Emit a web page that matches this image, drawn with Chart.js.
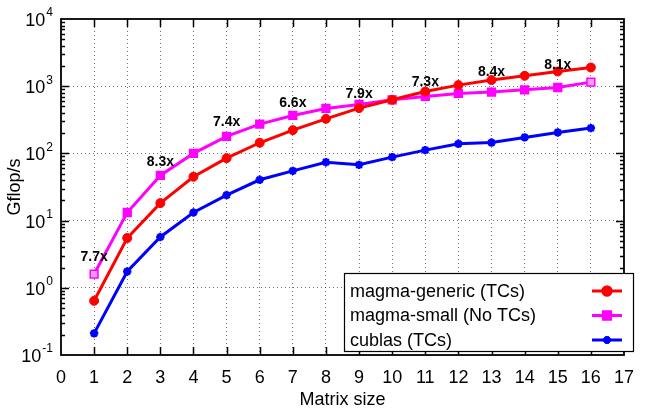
<!DOCTYPE html>
<html>
<head>
<meta charset="utf-8">
<script src="https://cdn.jsdelivr.net/npm/chart.js@4.4.1/dist/chart.umd.min.js"></script>
<style>
  html, body { margin: 0; padding: 0; background: #fff; }
  #wrap { width: 646px; height: 412px; }
</style>
</head>
<body>
<div id="wrap"><canvas id="chart" width="646" height="412"></canvas></div>
<script>
// matrix sizes on the x axis
const aMatrixSize = [1, 2, 3, 4, 5, 6, 7, 8, 9, 10, 11, 12, 13, 14, 15, 16];

// Gflop/s per series
const aMagmaGeneric = [0.64, 5.5, 18.2, 45, 85, 144, 222, 327, 472, 628, 833, 1038, 1233, 1428, 1656, 1897];
const aMagmaSmall = [1.6, 13.2, 47, 100, 179, 273, 367, 466, 534, 628, 703, 780, 817, 884, 956, 1150];
const aCublas = [0.21, 1.75, 5.7, 13.2, 24, 40.5, 55, 74, 67.6, 88, 112, 139, 145, 173, 205, 238];

// speedup labels (x position, text, y value where the label sits)
const aSpeedupX = [1, 3, 5, 7, 9, 11, 13, 15];
const aSpeedupLabel = ["7.7x", "8.3x", "7.4x", "6.6x", "7.9x", "7.3x", "8.4x", "8.1x"];
const aSpeedupY = [2.9, 75, 296, 566, 771, 1162, 1637, 2081];

// y axis decades (exponents of 10)
const aYExp = [-1, 0, 1, 2, 3, 4];

const FONT = "'Liberation Sans', Arial, Helvetica, sans-serif";

function toPoints(aY) {
    return aMatrixSize.map(function (x, i) { return { x: x, y: aY[i] }; });
}

function isDecade(v) {
    const e = Math.log10(v);
    return Math.abs(e - Math.round(e)) < 1e-9;
}

// frame, inward ticks, y labels with superscripts, speedup labels and legend
const gnuplotLook = {
    id: "gnuplotLook",
    afterDraw: function (chart) {
        const ctx = chart.ctx;
        const a = chart.chartArea;
        const xs = chart.scales.x;
        const ys = chart.scales.y;

        ctx.save();
        ctx.strokeStyle = "#000";
        ctx.lineWidth = 1.5;

        // inward x ticks (bottom and top)
        ctx.beginPath();
        for (let v = 1; v < 17; v++) {
            const px = Math.round(xs.getPixelForValue(v)) + 0.5;
            ctx.moveTo(px, a.bottom); ctx.lineTo(px, a.bottom - 8);
            ctx.moveTo(px, a.top); ctx.lineTo(px, a.top + 8);
        }
        // inward y ticks, major and minor (left and right)
        ys.ticks.forEach(function (t) {
            if (t.value <= 0.1 || t.value >= 10000) return;
            const py = Math.round(ys.getPixelForValue(t.value)) + 0.5;
            const len = isDecade(t.value) ? 8 : 4;
            ctx.moveTo(a.left, py); ctx.lineTo(a.left + len, py);
            ctx.moveTo(a.right, py); ctx.lineTo(a.right - len, py);
        });
        ctx.stroke();

        // frame
        ctx.lineWidth = 1.8;
        ctx.strokeRect(a.left, a.top, a.right - a.left, a.bottom - a.top);

        // y labels 10^n
        ctx.fillStyle = "#000";
        aYExp.forEach(function (e) {
            const py = ys.getPixelForValue(Math.pow(10, e));
            const sExp = String(e);
            ctx.font = "12px " + FONT;
            const wExp = ctx.measureText(sExp).width;
            ctx.font = "18px " + FONT;
            const wBase = ctx.measureText("10").width;
            const xRight = 53;
            ctx.textBaseline = "middle";
            ctx.textAlign = "left";
            ctx.fillText("10", xRight - wExp - wBase - 1, py + 2);
            ctx.font = "12px " + FONT;
            ctx.fillText(sExp, xRight - wExp, py - 6);
        });

        // speedup labels
        ctx.font = "bold 14px " + FONT;
        ctx.textAlign = "center";
        ctx.textBaseline = "middle";
        aSpeedupX.forEach(function (x, i) {
            ctx.fillText(aSpeedupLabel[i], xs.getPixelForValue(x), ys.getPixelForValue(aSpeedupY[i]));
        });

        // legend box
        const lx = 344, ly = 273, lw = 289, lh = 78;
        ctx.fillStyle = "#fff";
        ctx.fillRect(lx, ly, lw, lh);
        ctx.lineWidth = 1.2;
        ctx.strokeRect(lx + 0.5, ly + 0.5, lw, lh);
        ctx.font = "18px " + FONT;
        ctx.textAlign = "left";
        chart.data.datasets.forEach(function (ds, i) {
            const cy = 291 + i * 24.5;
            ctx.fillStyle = "#000";
            ctx.fillText(ds.label, 350, cy + 1);
            ctx.strokeStyle = ds.borderColor;
            ctx.lineWidth = 3;
            ctx.beginPath();
            ctx.moveTo(592, cy); ctx.lineTo(622, cy);
            ctx.stroke();
            Chart.helpers.drawPoint(ctx, {
                pointStyle: ds.pointStyle,
                radius: ds.pointRadius - 0.5,
                borderWidth: ds.pointBorderWidth || 1,
                rotation: 0
            }, 607, cy);
            ctx.fillStyle = ds.borderColor;
            ctx.fill();
            ctx.stroke();
        });
        ctx.restore();
    }
};

const oChart = new Chart(document.getElementById("chart").getContext("2d"), {
    type: "line",
    plugins: [gnuplotLook],
    data: {
        datasets: [
            {
                label: "magma-generic (TCs)",
                data: toPoints(aMagmaGeneric),
                borderColor: "#ff0000",
                backgroundColor: "#ff0000",
                pointBackgroundColor: "#ff0000",
                borderWidth: 3,
                pointStyle: "circle",
                pointRadius: 4.5,
                pointBorderWidth: 1,
                tension: 0
            },
            {
                label: "magma-small (No TCs)",
                data: toPoints(aMagmaSmall),
                borderColor: "#ff00ff",
                backgroundColor: "#ff00ff",
                pointBackgroundColor: aMatrixSize.map(function (x, i) {
                    return (i === 0 || i === aMatrixSize.length - 1) ? "#ff99ff" : "#ff00ff";
                }),
                borderWidth: 3,
                pointStyle: "rect",
                pointRadius: 5.5,
                pointBorderWidth: 1.5,
                tension: 0
            },
            {
                label: "cublas (TCs)",
                data: toPoints(aCublas),
                borderColor: "#0000ff",
                backgroundColor: "#0000ff",
                pointBackgroundColor: "#0000ff",
                borderWidth: 3,
                pointStyle: "star",
                pointRadius: 4.2,
                pointBorderWidth: 2.5,
                tension: 0
            }
        ]
    },
    options: {
        responsive: false,
        animation: false,
        layout: { padding: { top: 19, right: 6, left: 0, bottom: 0 } },
        plugins: {
            legend: { display: false },
            tooltip: { enabled: false }
        },
        scales: {
            x: {
                type: "linear",
                min: 0,
                max: 17,
                ticks: {
                    stepSize: 1,
                    padding: 12,
                    color: "#000",
                    font: { family: FONT, size: 18 }
                },
                grid: {
                    drawTicks: false,
                    lineWidth: 1,
                    color: function (c) {
                        const v = c.tick && c.tick.value;
                        return (v > 0 && v < 17) ? "rgba(0,0,0,0.55)" : "transparent";
                    }
                },
                border: { display: false, dash: [1, 3] },
                title: {
                    display: true,
                    text: "Matrix size",
                    color: "#000",
                    font: { family: FONT, size: 18 },
                    padding: { top: 0, bottom: 1 }
                },
                afterFit: function (s) { s.height = 57; }
            },
            y: {
                type: "logarithmic",
                min: 0.1,
                max: 10000,
                afterBuildTicks: function (s) {
                    const aTicks = [];
                    aYExp.forEach(function (e) {
                        for (let m = 1; m <= 9; m++) {
                            const v = m * Math.pow(10, e);
                            if (v <= 10000) aTicks.push({ value: v });
                        }
                    });
                    s.ticks = aTicks;
                },
                ticks: { display: false },
                grid: {
                    drawTicks: false,
                    lineWidth: 1,
                    color: function (c) {
                        const v = c.tick && c.tick.value;
                        return (v > 0.1 && v < 10000 && isDecade(v)) ? "rgba(0,0,0,0.55)" : "transparent";
                    }
                },
                border: { display: false, dash: [1, 3] },
                title: {
                    display: true,
                    text: "Gflop/s",
                    color: "#000",
                    font: { family: FONT, size: 18 },
                    padding: { top: 4, bottom: 0 }
                },
                afterFit: function (s) { s.width = 61; }
            }
        }
    }
});
</script>
</body>
</html>
